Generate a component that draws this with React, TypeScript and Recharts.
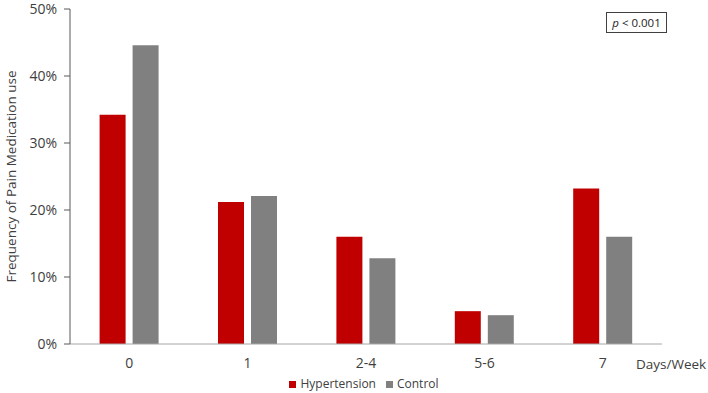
import React from "react";
import { BarChart, Bar, XAxis, YAxis, Legend } from "recharts";

const categories = ["0", "1", "2-4", "5-6", "7"];
const hypertension = [34.2, 21.2, 16.0, 4.9, 23.2];
const control = [44.6, 22.1, 12.8, 4.3, 16.0];
const yTicks = [0, 10, 20, 30, 40, 50];
const seriesOrder = ["Hypertension", "Control"];

const data = categories.map((c, i) => ({
  cat: c,
  Hypertension: hypertension[i],
  Control: control[i],
}));

const FONT = "'Open Sans', sans-serif";
const TXT = "#404040";

const YLabel = (props: any) => {
  const vb = props.viewBox || {};
  const cx = 11;
  const cy = vb.y + vb.height / 2;
  return (
    <text
      x={cx}
      y={cy}
      transform={`rotate(-90, ${cx}, ${cy})`}
      textAnchor="middle"
      dominantBaseline="central"
      fontSize={13.5}
      fill={TXT}
      fontFamily={FONT}
    >
      Frequency of Pain Medication use
    </text>
  );
};

const XLabel = (props: any) => {
  const vb = props.viewBox || {};
  return (
    <text
      x={vb.x + vb.width - 26}
      y={364}
      textAnchor="start"
      dominantBaseline="central"
      fontSize={13.5}
      fill={TXT}
      fontFamily={FONT}
    >
      Days/Week
    </text>
  );
};

export default function App() {
  return (
    <div style={{ position: "absolute", left: 0, top: 0, width: 708, height: 393, background: "#fff" }}>
      <BarChart
        width={708}
        height={393}
        data={data}
        margin={{ top: 9, right: 46, bottom: 0, left: 0 }}
        barCategoryGap="25%"
        barGap={7}
        style={{ fontFamily: FONT }}
      >
        <XAxis
          dataKey="cat"
          height={31}
          tickLine={false}
          axisLine={{ stroke: "#a6a6a6" }}
          tick={{ fill: TXT, fontSize: 14, fontFamily: FONT }}
          tickMargin={8}
          label={<XLabel />}
        />
        <YAxis
          width={70}
          domain={[0, 50]}
          ticks={yTicks}
          tickFormatter={(v: number) => `${v}%`}
          axisLine={{ stroke: "#595959" }}
          tickLine={{ stroke: "#595959" }}
          tickSize={6}
          tickMargin={7}
          tick={{ fill: TXT, fontSize: 14, fontFamily: FONT }}
          label={<YLabel />}
        />
        <Legend
          verticalAlign="bottom"
          align="center"
          iconType="square"
          iconSize={7}
          height={18}
          itemSorter={(item: any) => seriesOrder.indexOf(item.value)}
          wrapperStyle={{ left: 38, fontSize: 12, fontFamily: FONT, color: TXT, lineHeight: "18px" }}
          formatter={(value: string) => <span style={{ color: TXT }}>{value}</span>}
        />
        <Bar dataKey="Hypertension" fill="#C00000" isAnimationActive={false} />
        <Bar dataKey="Control" fill="#808080" isAnimationActive={false} />
      </BarChart>
      <div
        style={{
          position: "absolute",
          left: 606,
          top: 12,
          width: 59,
          height: 19,
          border: "1px solid #404040",
          fontFamily: FONT,
          fontSize: 11.5,
          color: "#222",
          lineHeight: "19px",
          textAlign: "center",
          boxSizing: "content-box",
        }}
      >
        <i>p</i> &lt; 0.001
      </div>
    </div>
  );
}
